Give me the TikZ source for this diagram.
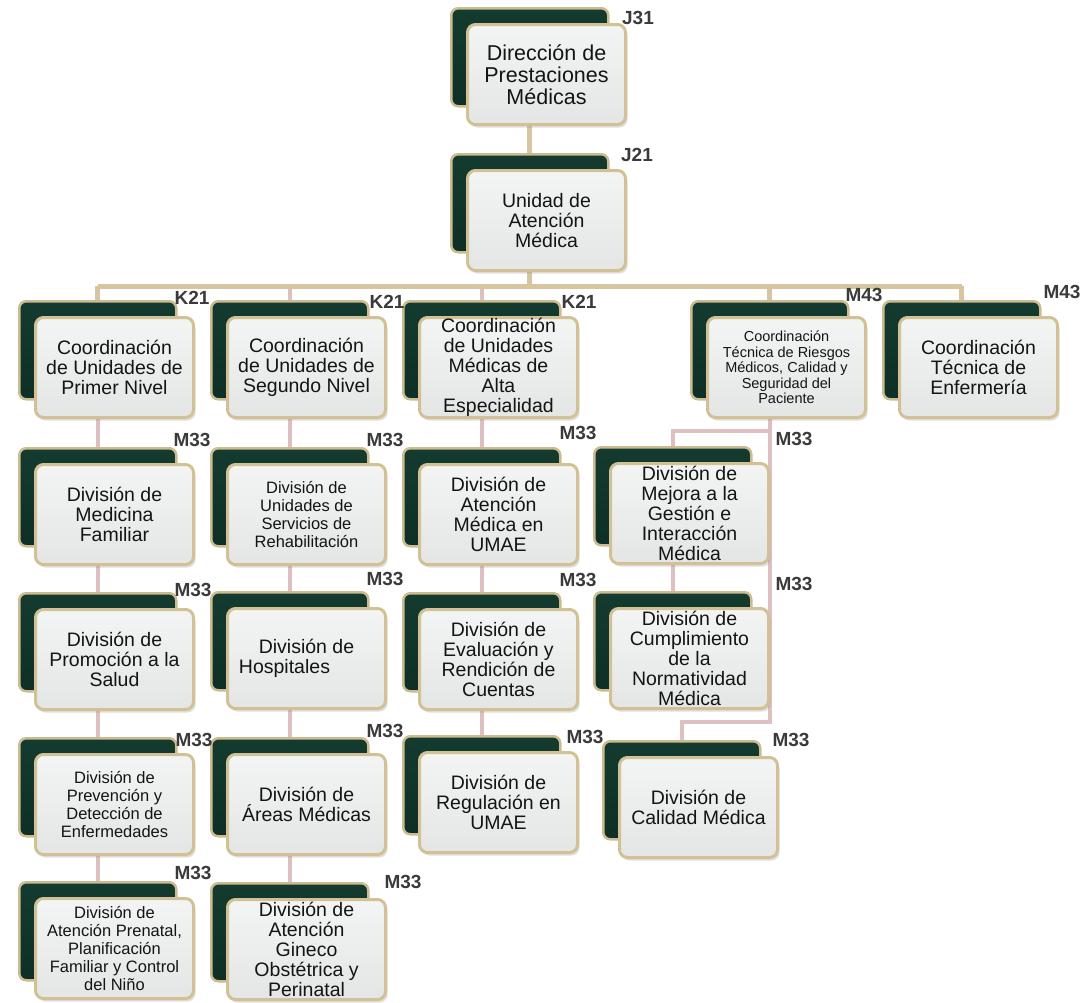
\documentclass[tikz,border=0pt]{standalone}
\usepackage{fontspec}
\setmainfont{Liberation Sans}
\usetikzlibrary{shadows,backgrounds}
\definecolor{dkgreen}{HTML}{143B2F}
\definecolor{dkgreenB}{HTML}{0E2F25}
\definecolor{tanb}{HTML}{CDBA8F}
\definecolor{tanf}{HTML}{D3C196}
\definecolor{frontA}{HTML}{F3F4F4}
\definecolor{frontB}{HTML}{E4E5E5}
\definecolor{tanline}{HTML}{D6C59E}
\definecolor{pinkline}{HTML}{DFC0C0}
\definecolor{lblcol}{HTML}{3A3A3A}
\definecolor{txt}{HTML}{141414}
\newcommand\fbig{\fontsize{21.5}{22}\selectfont}
\newcommand\fstd{\fontsize{19.5}{20}\selectfont}
\newcommand\fsml{\fontsize{16.5}{18}\selectfont}
\newcommand\fxs{\fontsize{14.5}{15.5}\selectfont}
\tikzset{
  backbox/.style={rectangle, rounded corners=7pt, minimum width=157pt, minimum height=98pt,
    top color=dkgreen, bottom color=dkgreenB, draw=tanb, line width=2.5pt, inner sep=0pt, anchor=north west},
  frontbox/.style={rectangle, rounded corners=8pt, minimum width=158pt, minimum height=100pt,
    top color=frontA, bottom color=frontB, draw=tanf, line width=3pt, inner sep=0pt, align=center,
    text=txt, anchor=north west, drop shadow={opacity=0.25, shadow xshift=2pt, shadow yshift=-3pt}},
  lbl/.style={font=\bfseries\fontsize{19}{19}\selectfont, text=lblcol, inner sep=0pt},
  tanconn/.style={draw=tanline, line width=5pt},
  pinkconn/.style={draw=pinkline, line width=4pt},
}
\newcommand\orgunit[5]{%
  \node[backbox] (b#1) at (#2,#3) {};
  \node[frontbox, font=#5] (f#1) at ({#2+16},{#3+16}) {#4};
}
\begin{document}
\begin{tikzpicture}[x=1pt,y=-1pt]
\useasboundingbox (0,0) rectangle (1087,1002);
% top
\orgunit{J31}{450}{7}{Dirección de\\Prestaciones\\Médicas}{\fbig}
\orgunit{J21}{450}{153}{Unidad de\\Atención\\Médica}{\fstd}
% level 2
\orgunit{K1}{18}{300}{Coordinación\\de Unidades de\\Primer Nivel}{\fstd}
\orgunit{K2}{210}{300}{Coordinación\\de Unidades de\\Segundo Nivel}{\fstd}
\orgunit{K3}{402}{300}{Coordinación\\de Unidades\\Médicas de\\Alta\\Especialidad}{\fstd}
\orgunit{K4}{690}{300}{Coordinación\\Técnica de Riesgos\\Médicos, Calidad y\\Seguridad del\\Paciente}{\fxs}
\orgunit{K5}{882}{300}{Coordinación\\Técnica de\\Enfermería}{\fstd}
% column 1
\orgunit{A1}{18}{447}{División de\\Medicina\\Familiar}{\fstd}
\orgunit{B1}{18}{592}{División de\\Promoción a la\\Salud}{\fstd}
\orgunit{C1}{18}{737}{División de\\Prevención y\\Detección de\\Enfermedades}{\fsml}
\orgunit{D1}{18}{881}{División de\\Atención Prenatal,\\Planificación\\Familiar y Control\\del Niño}{\fsml}
% column 2
\orgunit{A2}{210}{447}{División de\\Unidades de\\Servicios de\\Rehabilitación}{\fsml}
\orgunit{B2}{210}{591}{División de\\Hospitales\hspace*{44pt}}{\fstd}
\orgunit{C2}{210}{737}{División de\\Áreas Médicas}{\fstd}
\orgunit{D2}{210}{882}{División de\\Atención\\Gineco\\Obstétrica y\\Perinatal}{\fstd}
% column 3
\orgunit{A3}{402}{447}{División de\\Atención\\Médica en\\UMAE}{\fstd}
\orgunit{B3}{402}{592}{División de\\Evaluación y\\Rendición de\\Cuentas}{\fstd}
\orgunit{C3}{402}{735}{División de\\Regulación en\\UMAE}{\fstd}
% column 4
\orgunit{A4}{593}{446}{División de\\Mejora a la\\Gestión e\\Interacción\\Médica}{\fstd}
\orgunit{B4}{593}{591}{División de\\Cumplimiento\\de la\\Normatividad\\Médica}{\fstd}
\orgunit{C4}{602}{740}{División de\\Calidad Médica}{\fstd}
% labels
\node[lbl] (lJ31) at (638,18) {J31};
\node[lbl] (lJ21) at (637,155) {J21};
\node[lbl] (lK1) at (192,298) {K21};
\node[lbl] (lK2) at (387,302) {K21};
\node[lbl] (lK3) at (579,302) {K21};
\node[lbl] (lK4) at (864,295) {M43};
\node[lbl] (lK5) at (1062,292) {M43};
\node[lbl] (lA1) at (192,440) {M33};
\node[lbl] (lB1) at (193,590) {M33};
\node[lbl] (lC1) at (194,740) {M33};
\node[lbl] (lD1) at (193,873) {M33};
\node[lbl] (lA2) at (385,440) {M33};
\node[lbl] (lB2) at (385,579) {M33};
\node[lbl] (lC2) at (385,731) {M33};
\node[lbl] (lD2) at (403,882) {M33};
\node[lbl] (lA3) at (578,433) {M33};
\node[lbl] (lB3) at (578,580) {M33};
\node[lbl] (lC3) at (585,737) {M33};
\node[lbl] (lA4) at (794,439) {M33};
\node[lbl] (lB4) at (794,584) {M33};
\node[lbl] (lC4) at (791,740) {M33};
% connectors
\coordinate (bar) at (0,286);
\coordinate (j4a) at (0,431);
\coordinate (j4c) at (0,722);
\begin{pgfonlayer}{background}
\draw[tanconn] (bJ31.center) -- (bJ21.center);
\draw[tanconn] (bJ21.center) -- (bJ21.center |- bar);
\draw[tanconn] (bK1.center |- bar) -- (bK5.center |- bar);
\draw[tanconn] (bK1.center |- bar) -- (bK1.center);
\draw[tanconn] (bK4.center |- bar) -- (bK4.center);
\draw[tanconn] (bK5.center |- bar) -- (bK5.center);
\draw[pinkconn] (bK2.center |- bar) ++(0,3) -- (bK2.center);
\draw[pinkconn] (bK3.center |- bar) ++(0,3) -- (bK3.center);
\draw[pinkconn] (bK1.center) -- (bD1.center);
\draw[pinkconn] (bK2.center) -- (bD2.center);
\draw[pinkconn] (bK3.center) -- (bC3.center);
\draw[pinkconn] (bK4.center) |- (bA4.center |- j4a) -- (bA4.center);
\draw[pinkconn] (bA4.center) -- (bB4.center);
\draw[pinkconn] (bK4.center) |- (bC4.center |- j4c) -- (bC4.center);
\end{pgfonlayer}
\end{tikzpicture}
\end{document}
